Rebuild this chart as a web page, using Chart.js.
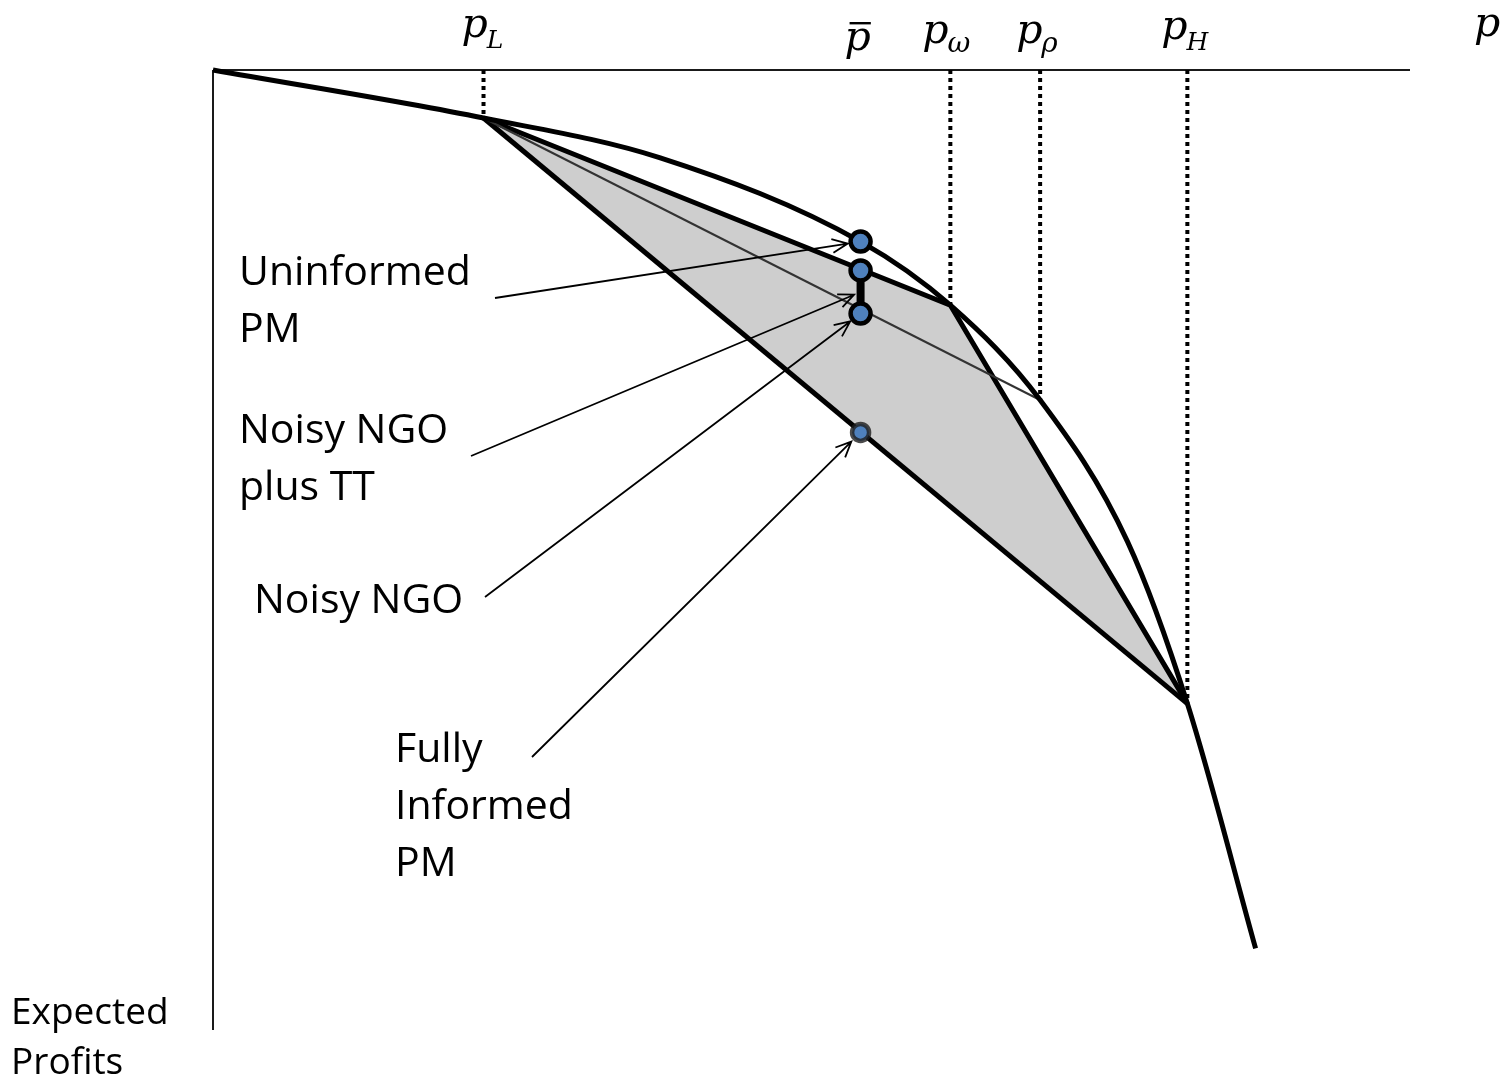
<!DOCTYPE html>
<html>
<head>
<meta charset="utf-8">
<script src="https://cdn.jsdelivr.net/npm/chart.js@4.4.0/dist/chart.umd.min.js"></script>
<style>
  html, body { margin: 0; padding: 0; background: #fff; }
  #wrap { width: 1503px; height: 1078px; }
</style>
</head>
<body>
<div id="wrap"><canvas id="profitChart" width="1503" height="1078"></canvas></div>
<script>
// Expected profits curve (price on x, profit on y, axis units)
const curvePrice  = [0, 2.26, 3.73, 5.41, 6.16, 6.91, 7.64, 8.14, 8.71];
const curveProfit = [0, -0.40, -0.73, -1.43, -1.96, -2.75, -3.93, -5.28, -7.32];

// Key prices: p_L, p-bar, p_omega, p_rho, p_H
const keyNames  = ['L', 'bar', 'ω', 'ρ', 'H'];
const keyPrice  = [2.26, 5.41, 6.16, 6.91, 8.14];
const keyProfit = [-0.40, -1.43, -1.96, -2.75, -5.28];

// Outcomes at p-bar
const pmNames  = ['Uninformed PM', 'Noisy NGO plus TT (top)', 'Noisy NGO', 'Fully Informed PM'];
const pmProfit = [-1.43, -1.67, -2.03, -3.02];

function pt(i) {
    return { x: keyPrice[i], y: keyProfit[i] };
}

function drawArrow(ctx, x1, y1, x2, y2) {
    const a = Math.atan2(y2 - y1, x2 - x1);
    const h = 17, w = 0.42;
    ctx.beginPath();
    ctx.moveTo(x1, y1);
    ctx.lineTo(x2, y2);
    ctx.moveTo(x2 - h * Math.cos(a - w), y2 - h * Math.sin(a - w));
    ctx.lineTo(x2, y2);
    ctx.lineTo(x2 - h * Math.cos(a + w), y2 - h * Math.sin(a + w));
    ctx.stroke();
}

// Axes, labels and arrows
const diagramPlugin = {
    id: 'diagram',
    beforeDatasetsDraw(chart) {
        const { ctx, chartArea } = chart;
        ctx.save();
        ctx.strokeStyle = '#1a1a1a';
        ctx.lineWidth = 2;
        ctx.beginPath();
        ctx.moveTo(chartArea.left, chartArea.top);
        ctx.lineTo(chartArea.right, chartArea.top);
        ctx.moveTo(chartArea.left, chartArea.top);
        ctx.lineTo(chartArea.left, chartArea.bottom);
        ctx.stroke();
        ctx.restore();
    },
    afterDatasetsDraw(chart) {
        const { ctx } = chart;
        const xs = chart.scales.x, ys = chart.scales.y;
        const px = xs.getPixelForValue(keyPrice[1]);
        const py = pmProfit.map(v => ys.getPixelForValue(v));

        ctx.save();
        // arrows from labels to outcomes
        const arrows = [
            { from: [495, 298], to: py[0], gap: 13 },
            { from: [471, 456], to: (py[1] + py[2]) / 2, gap: 7 },
            { from: [485, 597], to: py[2], gap: 13 },
            { from: [532, 757], to: py[3], gap: 13 }
        ];
        ctx.strokeStyle = '#000';
        ctx.lineWidth = 1.8;
        arrows.forEach(a => {
            const dx = px - a.from[0], dy = a.to - a.from[1];
            const len = Math.hypot(dx, dy);
            drawArrow(ctx, a.from[0], a.from[1],
                px - dx / len * a.gap, a.to - dy / len * a.gap);
        });

        // text labels
        ctx.fillStyle = '#000';
        ctx.textBaseline = 'alphabetic';
        ctx.textAlign = 'left';
        ctx.font = "41px 'Open Sans', 'Noto Sans', sans-serif";
        const labels = [
            { lines: ['Uninformed', 'PM'], x: 239, y: 285 },
            { lines: ['Noisy NGO', 'plus TT'], x: 239, y: 443 },
            { lines: ['Noisy NGO'], x: 254, y: 613 },
            { lines: ['Fully', 'Informed', 'PM'], x: 395, y: 762 }
        ];
        labels.forEach(l => {
            l.lines.forEach((s, i) => ctx.fillText(s, l.x, l.y + i * 57));
        });
        ctx.font = "37px 'Open Sans', 'Noto Sans', sans-serif";
        ctx.fillText('Expected', 11, 1024);
        ctx.fillText('Profits', 11, 1074);

        // price labels along the top
        const serif = "'DejaVu Serif', 'Liberation Serif', serif";
        const tops = [
            { dx: -22, base: 37, sub: 'L', subFont: 25, subBase: 48 },
            { dx: -16, base: 50, sub: '', bar: true },
            { dx: -28, base: 43, sub: 'ω', subFont: 28, subBase: 52 },
            { dx: -24, base: 43, sub: 'ρ', subFont: 28, subBase: 52 },
            { dx: -26, base: 39, sub: 'H', subFont: 25, subBase: 50 }
        ];
        tops.forEach((t, i) => {
            const x0 = xs.getPixelForValue(keyPrice[i]) + t.dx;
            ctx.font = 'italic 41px ' + serif;
            const pw = ctx.measureText('p').width;
            ctx.fillText('p', x0, t.base);
            if (t.bar) {
                ctx.fillRect(x0 + 5, t.base - 28, pw - 5, 2.4);
            }
            if (t.sub) {
                ctx.font = 'italic ' + t.subFont + 'px ' + serif;
                ctx.fillText(t.sub, x0 + pw - 1, t.subBase);
            }
        });
        ctx.font = 'italic 41px ' + serif;
        ctx.fillText('p', 1474, 36);
        ctx.restore();
    }
};

const lineBase = {
    pointRadius: 0,
    borderColor: '#000',
    fill: false,
    tension: 0
};

const dotted = [0, 2, 3, 4].map(i => ({
    ...lineBase,
    label: 'p_' + keyNames[i],
    data: [{ x: keyPrice[i], y: 0 }, pt(i)],
    borderWidth: 4,
    borderDash: [4, 4],
    order: 2
}));

new Chart(document.getElementById('profitChart'), {
    type: 'line',
    data: {
        datasets: [
            {
                ...lineBase,
                label: 'region upper',
                data: [pt(0), pt(2), pt(4)],
                borderWidth: 5,
                fill: '+1',
                backgroundColor: '#cecece',
                order: 5
            },
            {
                ...lineBase,
                label: 'region lower',
                data: [pt(0), pt(4)],
                borderWidth: 5,
                order: 4
            },
            {
                ...lineBase,
                label: 'chord to p_rho',
                data: [pt(0), pt(3)],
                borderWidth: 2,
                borderColor: '#333',
                order: 3
            },
            {
                ...lineBase,
                label: 'expected profits',
                data: curvePrice.map((p, i) => ({ x: p, y: curveProfit[i] })),
                borderWidth: 5,
                cubicInterpolationMode: 'monotone',
                borderJoinStyle: 'round',
                order: 2
            },
            ...dotted,
            {
                ...lineBase,
                label: 'TT range',
                data: [{ x: keyPrice[1], y: pmProfit[1] }, { x: keyPrice[1], y: pmProfit[2] }],
                borderWidth: 8,
                order: 1
            },
            {
                label: 'outcomes',
                data: pmProfit.map(v => ({ x: keyPrice[1], y: v })),
                showLine: false,
                pointRadius: [10, 10, 10, 8.5],
                pointBorderWidth: 4.5,
                pointBackgroundColor: '#4f81bd',
                pointBorderColor: ['#000', '#000', '#000', 'rgba(30,30,30,0.8)'],
                order: 0
            }
        ]
    },
    options: {
        responsive: false,
        devicePixelRatio: 1,
        animation: false,
        layout: { padding: { left: 213, right: 93, top: 70, bottom: 48 } },
        datasets: { line: { clip: false } },
        scales: {
            x: { type: 'linear', min: 0, max: 10, display: false },
            y: { type: 'linear', min: -8, max: 0, display: false }
        },
        plugins: {
            legend: { display: false },
            tooltip: { enabled: false }
        }
    },
    plugins: [diagramPlugin]
});
</script>
</body>
</html>
